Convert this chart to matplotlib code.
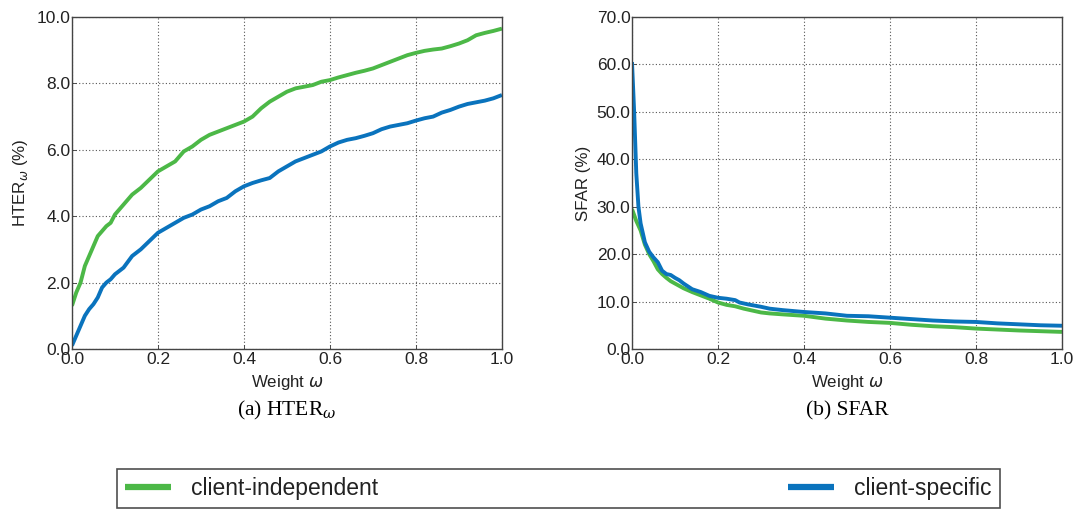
import matplotlib
matplotlib.use("Agg")
import matplotlib.pyplot as plt

plt.rcParams['font.family'] = ['Liberation Sans', 'DejaVu Sans']
plt.rcParams['mathtext.fontset'] = 'dejavusans'

# Weight grid and error rates
w_hter = [0.0, 0.01, 0.02, 0.03, 0.04, 0.05, 0.06, 0.07, 0.08, 0.09, 0.1, 0.12, 0.14, 0.16, 0.18,
          0.2, 0.22, 0.24, 0.26, 0.28, 0.3, 0.32, 0.34, 0.36, 0.38, 0.4, 0.42, 0.44, 0.46, 0.48,
          0.5, 0.52, 0.54, 0.56, 0.58, 0.6, 0.62, 0.64, 0.66, 0.68, 0.7, 0.72, 0.74, 0.76, 0.78,
          0.8, 0.82, 0.84, 0.86, 0.88, 0.9, 0.92, 0.94, 0.96, 0.98, 1.0]
hter_indep = [1.3, 1.7, 2.0, 2.5, 2.8, 3.1, 3.4, 3.55, 3.7, 3.8, 4.05, 4.35, 4.65, 4.85, 5.1,
              5.35, 5.5, 5.65, 5.95, 6.1, 6.3, 6.45, 6.55, 6.65, 6.75, 6.85, 7.0, 7.25, 7.45, 7.6,
              7.75, 7.85, 7.9, 7.95, 8.05, 8.1, 8.18, 8.25, 8.32, 8.38, 8.45, 8.55, 8.65, 8.75, 8.85,
              8.92, 8.98, 9.02, 9.05, 9.12, 9.2, 9.3, 9.45, 9.52, 9.58, 9.65]
hter_spec = [0.1, 0.4, 0.7, 1.0, 1.2, 1.35, 1.55, 1.85, 2.0, 2.1, 2.25, 2.45, 2.8, 3.0, 3.25,
             3.5, 3.65, 3.8, 3.95, 4.05, 4.2, 4.3, 4.45, 4.55, 4.75, 4.9, 5.0, 5.08, 5.15, 5.35,
             5.5, 5.65, 5.75, 5.85, 5.95, 6.1, 6.22, 6.3, 6.35, 6.42, 6.5, 6.62, 6.7, 6.75, 6.8,
             6.88, 6.95, 7.0, 7.12, 7.2, 7.3, 7.38, 7.43, 7.48, 7.55, 7.65]

w_sfar_indep = [0.0, 0.01, 0.02, 0.03, 0.04, 0.05, 0.06, 0.07, 0.08, 0.09, 0.1, 0.12, 0.14, 0.16,
                0.18, 0.2, 0.22, 0.24, 0.26, 0.28, 0.3, 0.32, 0.35, 0.4, 0.45, 0.5, 0.55, 0.6,
                0.65, 0.7, 0.75, 0.8, 0.85, 0.9, 0.95, 1.0]
sfar_indep = [29.5, 27.0, 25.0, 22.0, 20.0, 18.5, 16.8, 15.8, 15.0, 14.3, 13.8, 12.8, 12.0, 11.3,
              10.6, 9.8, 9.3, 9.0, 8.5, 8.1, 7.7, 7.5, 7.3, 7.0, 6.4, 6.0, 5.7, 5.5,
              5.1, 4.8, 4.6, 4.3, 4.1, 3.9, 3.75, 3.6]

w_sfar_spec = [0.0, 0.005, 0.01, 0.015, 0.02, 0.03, 0.04, 0.05, 0.06, 0.07, 0.08, 0.09, 0.1,
               0.11, 0.12, 0.13, 0.14, 0.16, 0.18, 0.2, 0.22, 0.24, 0.25, 0.27, 0.3, 0.32, 0.35,
               0.4, 0.45, 0.5, 0.55, 0.6, 0.65, 0.7, 0.75, 0.8, 0.85, 0.9, 0.95, 1.0]
sfar_spec = [60.5, 50.0, 37.0, 30.0, 26.5, 22.5, 20.5, 19.3, 18.3, 16.5, 15.8, 15.6, 15.0,
             14.5, 13.8, 13.2, 12.6, 12.0, 11.2, 10.8, 10.6, 10.3, 9.8, 9.4, 8.9, 8.5, 8.2,
             7.8, 7.5, 7.0, 6.9, 6.6, 6.3, 6.0, 5.8, 5.7, 5.4, 5.2, 5.0, 4.9]

x_ticks = [0.0, 0.2, 0.4, 0.6, 0.8, 1.0]
hter_ticks = [0.0, 2.0, 4.0, 6.0, 8.0, 10.0]
sfar_ticks = [0.0, 10.0, 20.0, 30.0, 40.0, 50.0, 60.0, 70.0]

GREEN = '#4cb847'
BLUE = '#0a73bd'
LW = 2.8
TICK_FS = 12.5
LABEL_FS = 12.2

fig = plt.figure(figsize=(10.82, 5.12), dpi=100)
ax1 = fig.add_axes([0.0665, 0.3184, 0.3974, 0.6484])
ax2 = fig.add_axes([0.5841, 0.3184, 0.3974, 0.6484])


def style(ax, yticks):
    ax.set_xlim(0, 1)
    ax.set_ylim(yticks[0], yticks[-1])
    ax.set_xticks(x_ticks)
    ax.set_xticklabels([f"{t:.1f}" for t in x_ticks])
    ax.set_yticks(yticks)
    ax.set_yticklabels([f"{t:.1f}" for t in yticks])
    ax.tick_params(direction='in', length=3, width=0.6, labelsize=TICK_FS, pad=1,
                   colors='#333333', labelcolor='#222222')
    ax.tick_params(axis='x', pad=2.5)
    ax.grid(True, linestyle=(0, (1, 2)), color='#555555', linewidth=0.8)
    for s in ax.spines.values():
        s.set_color('#444444')
        s.set_linewidth(1.0)
    ax.set_xlabel(r'Weight $\omega$', fontsize=LABEL_FS, color='#222222', labelpad=4)


l1, = ax1.plot(w_hter, hter_indep, color=GREEN, lw=LW, solid_capstyle='butt')
l2, = ax1.plot(w_hter, hter_spec, color=BLUE, lw=LW, solid_capstyle='butt')
style(ax1, hter_ticks)
ax1.set_ylabel(r'HTER$_\omega$ (%)', fontsize=LABEL_FS, color='#222222', labelpad=5)

ax2.plot(w_sfar_indep, sfar_indep, color=GREEN, lw=LW, solid_capstyle='butt')
ax2.plot(w_sfar_spec, sfar_spec, color=BLUE, lw=LW, solid_capstyle='butt')
style(ax2, sfar_ticks)
ax2.set_ylabel('SFAR (%)', fontsize=LABEL_FS, color='#222222', labelpad=4)

fig.text(0.2652, 0.198, r'(a) HTER$_{\omega}$', ha='center', va='center',
         fontsize=15.5, family='Liberation Serif', math_fontfamily='dejavuserif')
fig.text(0.7828, 0.198, '(b) SFAR', ha='center', va='center',
         fontsize=15.5, family='Liberation Serif')

leg = fig.legend([l1, l2], ['client-independent', 'client-specific'],
                 loc='lower left', bbox_to_anchor=(0.108, 0.008, 0.816, 0.088),
                 mode='expand', ncol=2, fontsize=16.5, frameon=True, fancybox=False,
                 handlelength=2.0, handletextpad=0.9, borderaxespad=0.0,
                 borderpad=0.35)
leg.get_frame().set_edgecolor('#222222')
leg.get_frame().set_linewidth(1.2)
for h in leg.legend_handles:
    h.set_linewidth(4.5)
for t in leg.get_texts():
    t.set_color('#222222')

fig.savefig('out.png', dpi=100)
